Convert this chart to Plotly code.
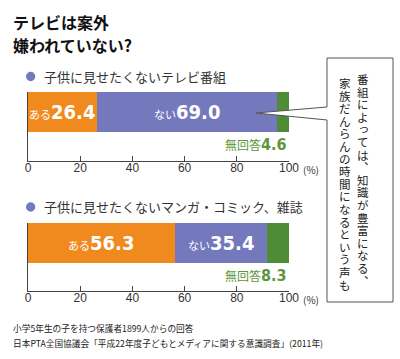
import plotly.graph_objects as go

# ---- data ----
categories = ["子供に見せたくないテレビ番組", "子供に見せたくないマンガ・コミック、雑誌"]
aru = [26.4, 56.3]        # ある
nai = [69.0, 35.4]        # ない
mukaito = [4.6, 8.3]      # 無回答
tick_vals = [0, 20, 40, 60, 80, 100]
tick_text = ["0", "20", "40", "60", "80", "100"]
title_lines = ["テレビは案外", "嫌われていない?"]
callout_cols = ["番組によっては︑知識が豊富になる︑", "家族だんらんの時間になるという声も"]
footer_lines = ["小学5年生の子を持つ保護者1899人からの回答",
                "日本PTA全国協議会「平成22年度子どもとメディアに関する意識調査」(2011年)"]

W, H = 400, 359
ORANGE = "#F08A1E"
PURPLE = "#7478BC"
GREEN = "#4E8C36"
GREEN_TXT = "#5E963C"
TXT = "#222222"
JP = "Noto Sans CJK JP"
NUM = "Liberation Sans Narrow, DejaVu Sans Condensed, sans-serif"

def px(x):
    return x / W

def py(y):
    return 1 - y / H

fig = go.Figure()

panels = [
    dict(bar_top=92, axis_y=160.7, legend_y=76.5),
    dict(bar_top=223, axis_y=291, legend_y=207),
]
x_left, x_right = 28, 289
bar_h = 40

for i in range(2):
    xa = "x" if i == 0 else "x2"
    ya = "y" if i == 0 else "y2"
    segs = [(aru[i], ORANGE), (nai[i], PURPLE), (mukaito[i], GREEN)]
    base = 0
    for val, col in segs:
        fig.add_trace(go.Bar(x=[val], y=[0], base=[base], orientation="h", width=1,
                             marker=dict(color=col, line=dict(width=0)),
                             xaxis=xa, yaxis=ya, hoverinfo="skip", showlegend=False))
        base += val

    fig.add_annotation(x=aru[i] / 2, y=0, xref=xa, yref=ya, showarrow=False,
                       text=f"<span style='font-family:{JP};font-size:11px'>ある</span>"
                            f"<b>{aru[i]:.1f}</b>",
                       font=dict(family=NUM, size=20, color="white"))
    fig.add_annotation(x=aru[i] + nai[i] / 2, y=0, xref=xa, yref=ya, showarrow=False,
                       text=f"<span style='font-family:{JP};font-size:11px'>ない</span>"
                            f"<b>{nai[i]:.1f}</b>",
                       font=dict(family=NUM, size=20, color="white"))
    p = panels[i]
    fig.add_annotation(x=100, y=-0.5, xref=xa, yref=ya, showarrow=False,
                       xanchor="right", yanchor="top", yshift=-1,
                       text=f"<span style='font-family:{JP};font-size:12px'>無回答</span>"
                            f"<b>{mukaito[i]:.1f}</b>",
                       font=dict(family=NUM, size=16, color=GREEN_TXT))
    fig.add_annotation(x=px(301), y=py(p["axis_y"] + 8.5), xref="paper", yref="paper",
                       showarrow=False, xanchor="left", yanchor="middle",
                       text="(%)", font=dict(family=JP, size=10, color="#333"))
    ly = p["legend_y"]
    fig.add_shape(type="circle", xref="paper", yref="paper",
                  x0=px(26), x1=px(35.3), y0=py(ly - 4.7), y1=py(ly + 4.7),
                  fillcolor=PURPLE, line=dict(width=0))
    fig.add_annotation(x=px(42), y=py(ly), xref="paper", yref="paper", showarrow=False,
                       xanchor="left", yanchor="middle", text=categories[i],
                       font=dict(family=JP, size=13, color="#333"))

    unit = bar_h
    y_bottom = -0.5 - (p["axis_y"] - p["bar_top"] - bar_h) / unit
    axis_common = dict(range=[0, 100], domain=[px(x_left), px(x_right)],
                       tickvals=tick_vals, ticktext=tick_text, ticks="inside",
                       ticklen=5, tickcolor="#444", showline=True, linecolor="#444",
                       linewidth=1, showgrid=False, zeroline=False, fixedrange=True,
                       ticklabelstandoff=-4, automargin=False,
                       tickfont=dict(family="Liberation Sans, Arial, sans-serif", size=12,
                                     color="#333"))
    yaxis_common = dict(range=[y_bottom, 0.5], domain=[py(p["axis_y"]), py(p["bar_top"])],
                        showline=True, linecolor="#444", linewidth=1, showticklabels=False,
                        ticks="", showgrid=False, zeroline=False, fixedrange=True,
                        automargin=False)
    if i == 0:
        fig.update_layout(xaxis=dict(anchor="y", **axis_common),
                          yaxis=dict(anchor="x", **yaxis_common))
    else:
        fig.update_layout(xaxis2=dict(anchor="y2", **axis_common),
                          yaxis2=dict(anchor="x2", **yaxis_common))

for j, line in enumerate(title_lines):
    fig.add_annotation(x=px(11), y=py(22 + j * 23), xref="paper", yref="paper",
                       showarrow=False, xanchor="left", yanchor="middle",
                       text=f"<b>{line}</b>", font=dict(family=JP, size=16, color="#111"))

for j, line in enumerate(footer_lines):
    fig.add_annotation(x=px(11), y=py(328 + j * 15), xref="paper", yref="paper",
                       showarrow=False, xanchor="left", yanchor="middle",
                       text=line, font=dict(family=JP, size=8.7, color=TXT))

pts = [(327, 107), (256, 113), (327, 120), (327, 302), (393, 302), (393, 58), (327, 58)]
path = "M " + " L ".join(f"{px(a):.5f},{py(b):.5f}" for a, b in pts) + " Z"
fig.add_shape(type="path", path=path, xref="paper", yref="paper",
              fillcolor="white", line=dict(color="#555", width=1), layer="above")

# vertical text: characters stacked one by one
col_x = [363, 345]
col_y0 = [79, 83]
pitch = 12.6
small = set("っょゃゅ")
for c, text in enumerate(callout_cols):
    for k, ch in enumerate(text):
        cx = col_x[c]
        cy = col_y0[c] + k * pitch
        if ch in small:
            cx += 1
            cy -= 1
        fig.add_annotation(x=px(cx), y=py(cy), xref="paper", yref="paper",
                           showarrow=False, xanchor="center", yanchor="middle",
                           text=ch, font=dict(family=JP, size=11.5, color=TXT))

fig.update_layout(width=W, height=H, margin=dict(l=0, r=0, t=0, b=0, autoexpand=False),
                  paper_bgcolor="white", plot_bgcolor="white", barmode="stack",
                  bargap=0, showlegend=False)

fig.write_html("out.html", config={"displayModeBar": False},
               post_script="document.body.style.margin='0px';document.body.style.overflow='hidden';")
